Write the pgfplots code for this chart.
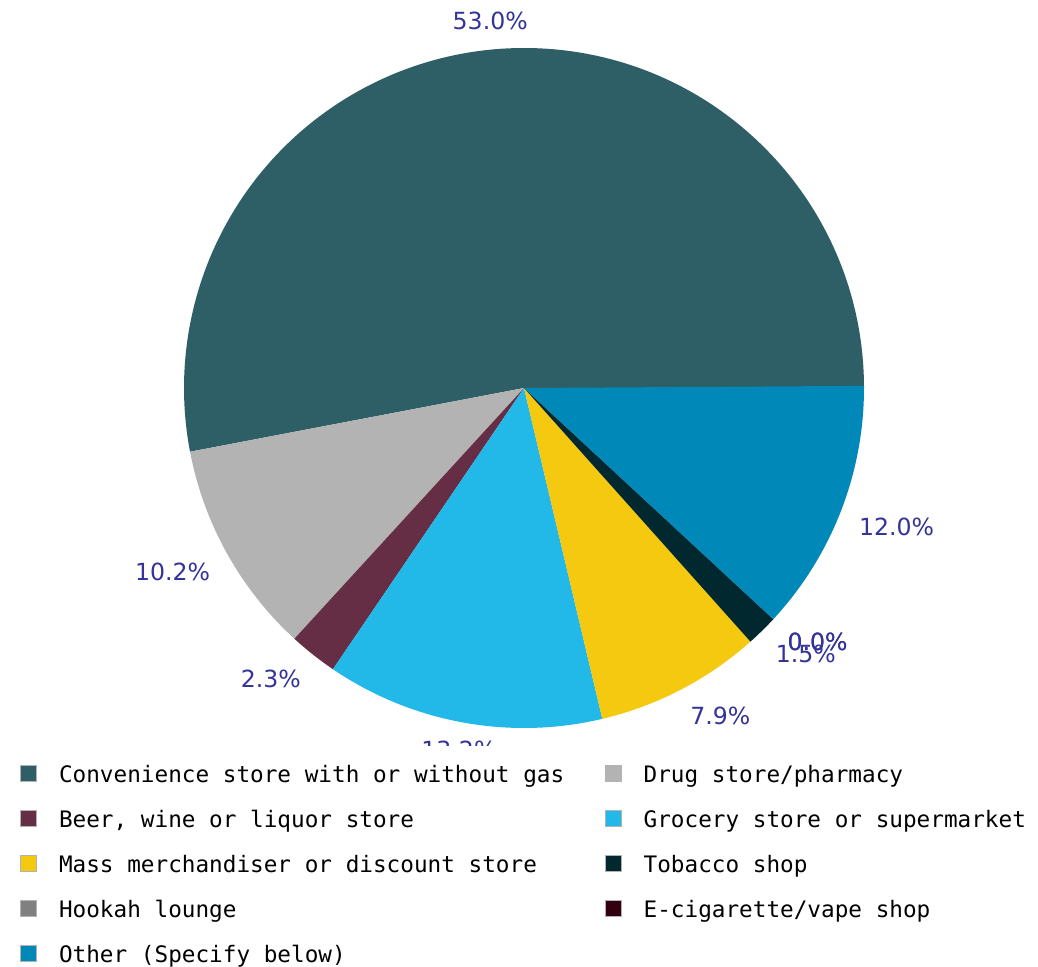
\documentclass[border=0pt]{standalone}
\usepackage{pgfplots}
\usepackage{pgfplotstable}
\pgfplotsset{compat=1.18}
\usepackage{fontspec}
\setmainfont{DejaVu Sans}
\newfontfamily\legendfont{DejaVu Sans Mono}

\definecolor{pie0}{HTML}{2E5F66}
\definecolor{pie1}{HTML}{B3B3B3}
\definecolor{pie2}{HTML}{662E44}
\definecolor{pie3}{HTML}{22B8E8}
\definecolor{pie4}{HTML}{F5C90F}
\definecolor{pie5}{HTML}{00282E}
\definecolor{pie6}{HTML}{808080}
\definecolor{pie7}{HTML}{33000F}
\definecolor{pie8}{HTML}{0088B8}
\definecolor{labelblue}{HTML}{333399}

% shares in percent, in drawing order (counter-clockwise from 3 o'clock)
\pgfplotstableread[col sep=comma]{
share,anchor
53.0,south
10.2,north east
2.3,north east
13.2,north
7.9,north west
1.5,north west
0.0,north west
0.0,north west
12.0,north west
}\piedata

% cumulative angles
\def\piecum{0}
\pgfplotsforeachungrouped \i in {0,...,8}{%
  \pgfplotstablegetelem{\i}{share}\of\piedata
  \let\pieval\pgfplotsretval
  \pgfmathsetmacro\pieend{\piecum+3.6*\pieval}%
  \pgfmathsetmacro\piemid{(\piecum+\pieend)/2}%
  \expandafter\xdef\csname pieA\i\endcsname{\piecum}%
  \expandafter\xdef\csname pieB\i\endcsname{\pieend}%
  \expandafter\xdef\csname pieM\i\endcsname{\piemid}%
  \expandafter\xdef\csname pieV\i\endcsname{\pieval}%
  \pgfplotstablegetelem{\i}{anchor}\of\piedata
  \expandafter\xdef\csname pieN\i\endcsname{\pgfplotsretval}%
  \xdef\piecum{\pieend}%
}

\begin{document}
\begin{tikzpicture}
\begin{axis}[
  x=0.5pt, y=0.5pt,
  xmin=0, xmax=1038, ymin=221, ymax=966,
  hide axis, clip=true,
  legend columns=2,
  legend cell align=left,
  legend image code/.code={\draw[#1,draw=black!30,line width=0.3pt] (0pt,-2.5pt) rectangle (8pt,5.5pt);},
  legend style={
    at={(axis description cs:0.0193,-0.0259)}, anchor=north west,
    draw=none, fill=none, inner sep=0pt, column sep=0pt, row sep=10.5pt,
    font=\legendfont\fontsize{11.34pt}{13pt}\selectfont,
    nodes={inner sep=0pt, text height=9pt, text depth=3pt},
    /tikz/every odd column/.append style={column sep=11pt},
    /tikz/every even column/.append style={column sep=20.4pt},
  },
]
\pgfplotsinvokeforeach{0,...,8}{
  \fill[pie#1] (axis cs:524,578) -- ++(\csname pieA#1\endcsname:170pt)
    arc[start angle=\csname pieA#1\endcsname, end angle=\csname pieB#1\endcsname, radius=170pt] -- cycle;
}
\pgfplotsinvokeforeach{0,...,8}{
  \path (axis cs:524,578) ++(\csname pieM#1\endcsname:179.5pt)
    node[anchor=\csname pieN#1\endcsname, inner sep=0pt, text=labelblue,
         font=\fontsize{11.8pt}{14pt}\selectfont] {\csname pieV#1\endcsname\%};
}
\addlegendimage{fill=pie0}
\addlegendimage{fill=pie1}
\addlegendimage{fill=pie2}
\addlegendimage{fill=pie3}
\addlegendimage{fill=pie4}
\addlegendimage{fill=pie5}
\addlegendimage{fill=pie6}
\addlegendimage{fill=pie7}
\addlegendimage{fill=pie8}
\legend{Convenience store with or without gas, Drug store/pharmacy,
  {Beer, wine or liquor store}, Grocery store or supermarket,
  Mass merchandiser or discount store, Tobacco shop,
  Hookah lounge, E-cigarette/vape shop, Other (Specify below)}
\end{axis}
\pgfresetboundingbox
\path (current axis.south west) ++(0,-110.5pt) rectangle (current axis.north east);
\end{tikzpicture}
\end{document}
